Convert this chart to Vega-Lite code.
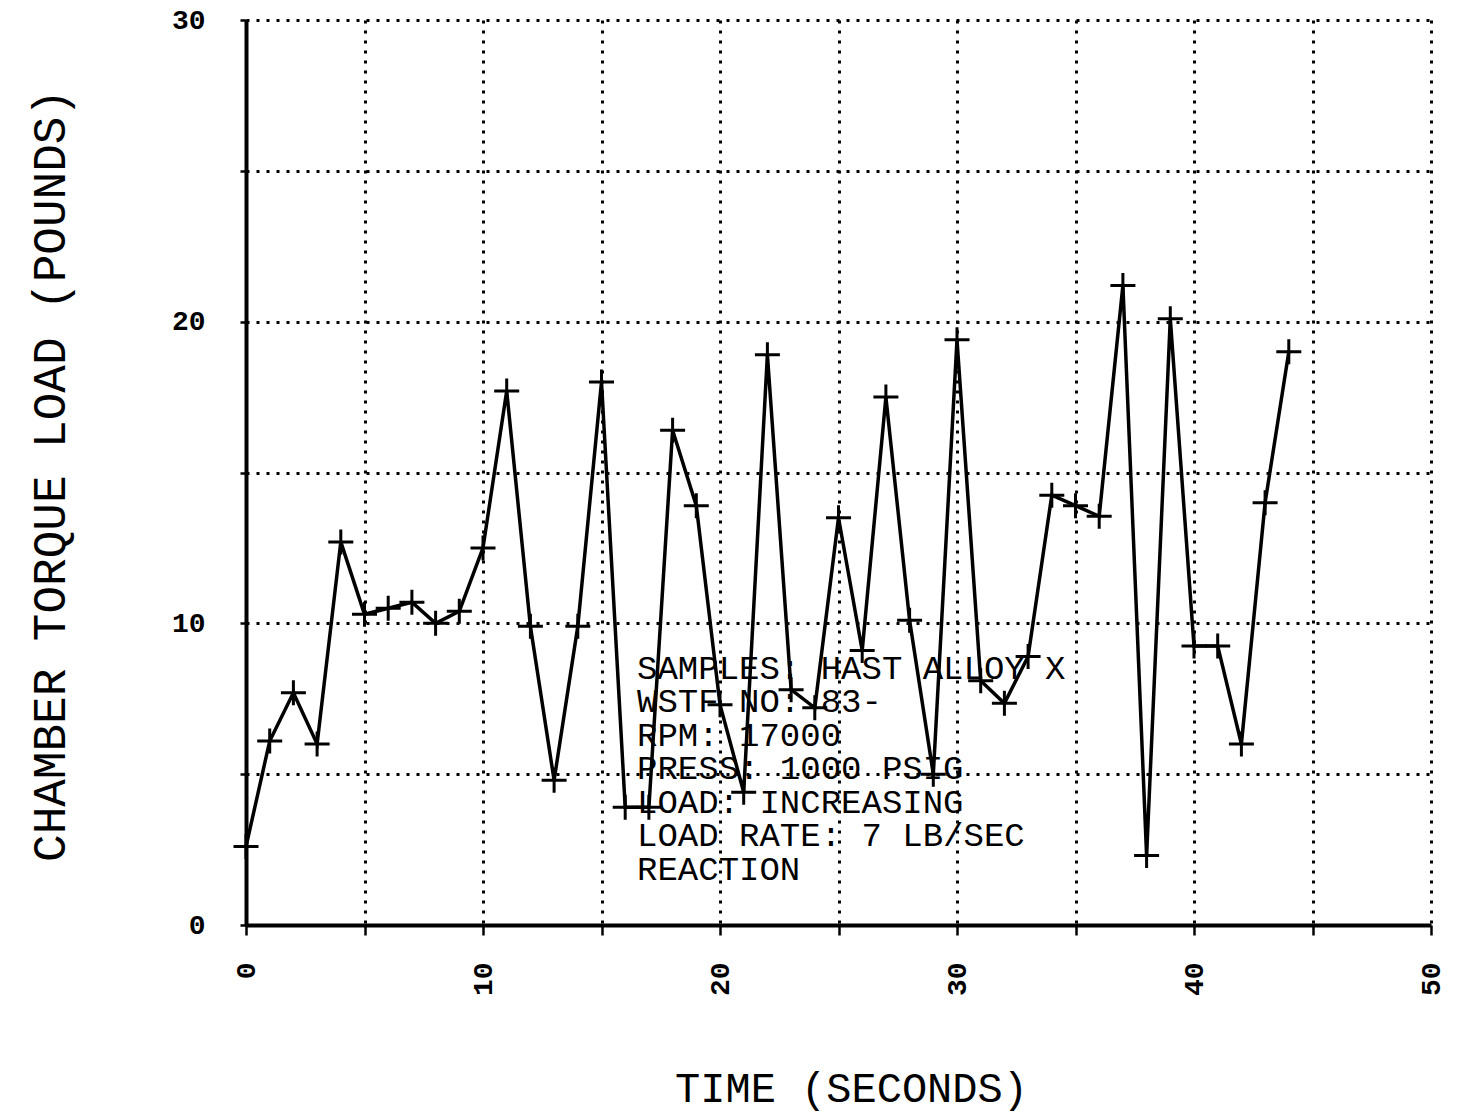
{
  "$schema": "https://vega.github.io/schema/vega-lite/v6.json",
  "width": 1185,
  "height": 905,
  "autosize": {"type": "none"},
  "padding": {"left": 246, "top": 20, "right": 30, "bottom": 193},
  "background": "white",
  "config": {
    "view": {"stroke": null},
    "axis": {
      "grid": true,
      "gridColor": "black",
      "gridDash": [3, 7],
      "gridWidth": 3,
      "gridOpacity": 1,
      "domainColor": "black",
      "domainWidth": 4,
      "tickColor": "black",
      "tickWidth": 2.5,
      "labelColor": "black",
      "labelFont": "Liberation Mono",
      "labelFontWeight": "bold",
      "labelFontSize": 28,
      "titleColor": "black",
      "titleFont": "Liberation Mono",
      "titleFontWeight": "normal",
      "titleAlign": "center",
      "titleBaseline": "middle"
    }
  },
  "datasets": {
    "load": [
      {"time": 0, "torque": 2.6},
      {"time": 1, "torque": 6.1},
      {"time": 2, "torque": 7.7},
      {"time": 3, "torque": 6.0},
      {"time": 4, "torque": 12.7},
      {"time": 5, "torque": 10.3},
      {"time": 6, "torque": 10.5},
      {"time": 7, "torque": 10.7},
      {"time": 8, "torque": 10.0},
      {"time": 9, "torque": 10.4},
      {"time": 10, "torque": 12.5},
      {"time": 11, "torque": 17.7},
      {"time": 12, "torque": 9.9},
      {"time": 13, "torque": 4.8},
      {"time": 14, "torque": 9.9},
      {"time": 15, "torque": 18.0},
      {"time": 16, "torque": 3.9},
      {"time": 17, "torque": 3.9},
      {"time": 18, "torque": 16.4},
      {"time": 19, "torque": 13.9},
      {"time": 20, "torque": 7.3},
      {"time": 21, "torque": 4.4},
      {"time": 22, "torque": 18.9},
      {"time": 23, "torque": 7.8},
      {"time": 24, "torque": 7.2},
      {"time": 25, "torque": 13.5},
      {"time": 26, "torque": 9.1},
      {"time": 27, "torque": 17.5},
      {"time": 28, "torque": 10.1},
      {"time": 29, "torque": 5.0},
      {"time": 30, "torque": 19.4},
      {"time": 31, "torque": 8.1},
      {"time": 32, "torque": 7.35},
      {"time": 33, "torque": 8.9},
      {"time": 34, "torque": 14.25},
      {"time": 35, "torque": 13.9},
      {"time": 36, "torque": 13.55},
      {"time": 37, "torque": 21.2},
      {"time": 38, "torque": 2.3},
      {"time": 39, "torque": 20.1},
      {"time": 40, "torque": 9.25},
      {"time": 41, "torque": 9.25},
      {"time": 42, "torque": 6.0},
      {"time": 43, "torque": 14.0},
      {"time": 44, "torque": 19.0}
    ],
    "note": [
      {"time": 16.5, "torque": 9.05, "text": "SAMPLES: HAST ALLOY X\nWSTF NO: 83-\nRPM: 17000\nPRESS: 1000 PSIG\nLOAD: INCREASING\nLOAD RATE: 7 LB/SEC\nREACTION"}
    ]
  },
  "encoding": {
    "x": {
      "field": "time",
      "type": "quantitative",
      "scale": {"domain": [0, 50], "nice": false, "zero": false},
      "axis": {
        "values": [0, 5, 10, 15, 20, 25, 30, 35, 40, 45, 50],
        "labelExpr": "datum.value % 10 === 0 ? datum.label : ''",
        "labelAngle": -90,
        "tickSize": 10,
        "labelPadding": 27,
        "title": "TIME (SECONDS)",
        "titleFontSize": 42,
        "titleX": 605,
        "titleY": 163
      }
    },
    "y": {
      "field": "torque",
      "type": "quantitative",
      "scale": {"domain": [0, 30], "nice": false},
      "axis": {
        "values": [0, 5, 10, 15, 20, 25, 30],
        "labelExpr": "datum.value % 10 === 0 ? datum.label : ''",
        "tickSize": 6,
        "labelPadding": 35,
        "title": "CHAMBER TORQUE LOAD (POUNDS)",
        "titleFontSize": 46,
        "titleAngle": -90,
        "titleX": -196,
        "titleY": 455
      }
    }
  },
  "layer": [
    {
      "data": {"name": "load"},
      "mark": {"type": "line", "color": "black", "strokeWidth": 3.5}
    },
    {
      "data": {"name": "load"},
      "mark": {"type": "point", "shape": "M-1,0L1,0M0,-1L0,1", "filled": false, "color": "black", "strokeWidth": 3, "size": 625, "opacity": 1}
    },
    {
      "data": {"name": "note"},
      "mark": {"type": "text", "align": "left", "baseline": "top", "font": "Liberation Mono", "fontSize": 34, "lineBreak": "\n", "lineHeight": 33.5, "color": "black"},
      "encoding": {"text": {"field": "text"}}
    }
  ]
}
